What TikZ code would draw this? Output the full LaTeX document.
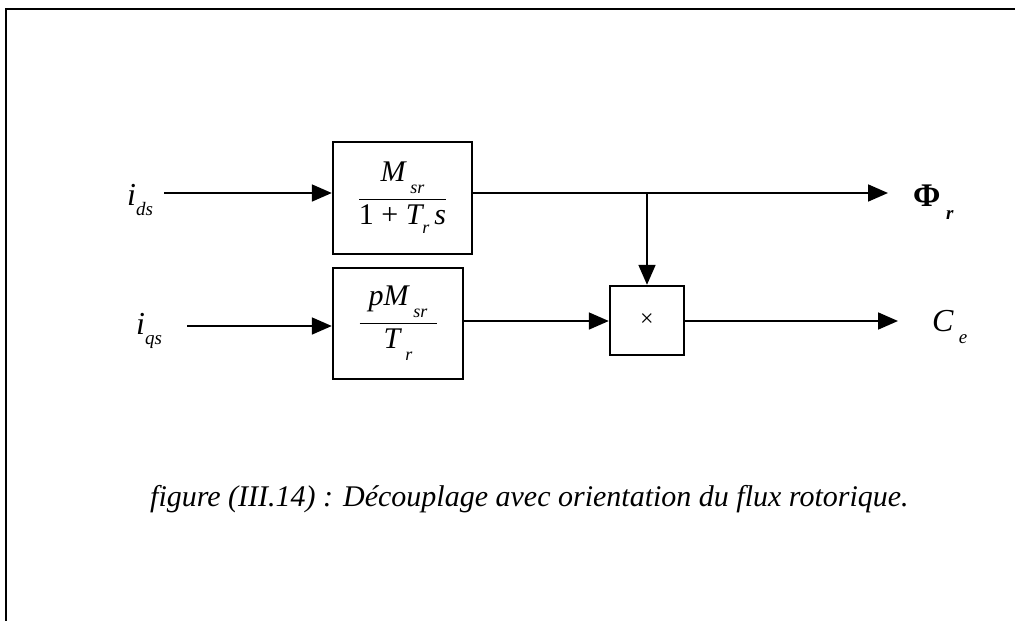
\documentclass[tikz,border=0pt]{standalone}
\usepackage{fontspec}
\setmainfont{Liberation Serif}
\usetikzlibrary{arrows.meta}

% italic subscript: optional drop, then size and text
\newcommand\lsub[3][0.40em]{\raisebox{-#1}{\fontsize{#2}{#2}\selectfont\itshape #3}}
% fraction with a bar of given width
\newcommand\barfrac[3]{$\displaystyle{\hbox to #1{\hss#2\hss}\above 1.6pt \hbox to #1{\hss#3\hss}}$}

\tikzset{
  blk/.style={draw, line width=2.4pt, inner sep=0pt, fill=white},
  sig/.style={line width=1.8pt, -{Triangle[length=20pt,width=17pt]}},
  lbl/.style={inner sep=0pt, font=\fontsize{32}{32}\selectfont},
}

\begin{document}
\begin{tikzpicture}[x=1pt,y=-1pt]
\useasboundingbox (0,0) rectangle (1015,621);

% outer frame (top and left edges)
\draw[line width=2.5pt] (1015,9) -- (6,9) -- (6,621);

% blocks
\node[blk, minimum width=139pt, minimum height=112pt] (b1) at (402.5,198)
  {\fontsize{30}{30}\selectfont\barfrac{87pt}{\itshape M\,\lsub{18}{sr}}{1 + \itshape T\lsub[0.30em]{18}{r}\,s}};
\node[blk, minimum width=130pt, minimum height=111pt] (b2) at (398,323.5)
  {\fontsize{30}{30}\selectfont\barfrac{77pt}{\itshape pM\,\lsub{18}{sr}}{\itshape T\,\lsub{18}{r}}};
\node[blk, minimum width=74pt, minimum height=69pt] (mul) at (647,320.5)
  {\fontsize{24}{24}\selectfont ×};

% inputs
\node[lbl, anchor=base west] (ids) at (127,205) {\itshape i\lsub[0.34em]{19}{ds}};
\node[lbl, anchor=base west] (iqs) at (136,334) {\itshape i\lsub[0.34em]{19}{qs}};
\coordinate (a1) at (164,193);
\coordinate (a2) at (187,326);

\draw[sig] (a1) -- (a1 -| b1.west);
\draw[sig] (a2) -- (a2 -| b2.west);

% outputs
\coordinate (br) at (647,193);
\coordinate (phiend) at (888,193);
\coordinate (ceend) at (898,321);
\node[lbl, anchor=base west] (phi) at (913,206) {\fontsize{33}{33}\selectfont\bfseries Φ\,\lsub[0.40em]{19}{r}};
\node[lbl, anchor=base west] (ce) at (932,331) {\itshape C\,\lsub[0.38em]{19}{e}};

\draw[sig] (br -| b1.east) -- (phiend);
\draw[sig] (br) -- (mul.north);
\draw[sig] (b2.east |- 0,321) -- (mul.west |- 0,321);
\draw[sig] (mul.east |- ceend) -- (ceend);

% caption
\node[inner sep=0pt, anchor=base west] (cap) at (150,506)
  {\fontsize{30}{30}\selectfont\itshape figure (III.14) : Découplage avec orientation du flux rotorique.};
\end{tikzpicture}
\end{document}
